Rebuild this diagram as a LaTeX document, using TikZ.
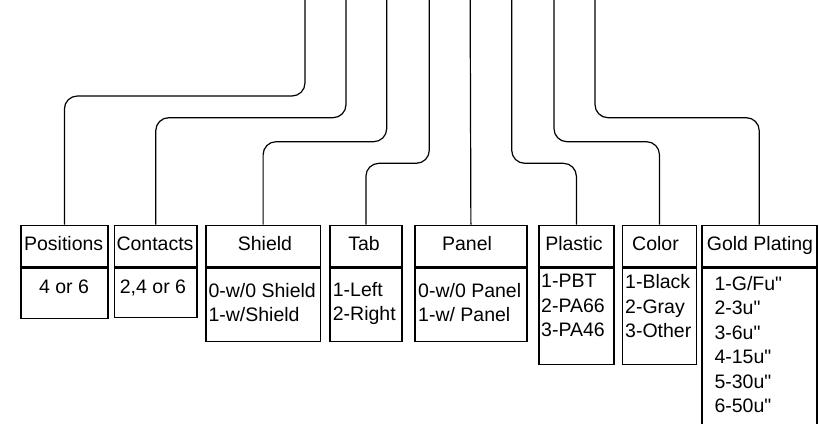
\documentclass[tikz,border=0pt]{standalone}
\usepackage{fontspec}
\setmainfont{Liberation Sans}[Ligatures=TeXOff]
\begin{document}
\begin{tikzpicture}[x=1pt,y=-1pt,
  font=\fontsize{19.5}{24.5}\selectfont,
  hdr/.style={draw, line width=1.5pt, inner sep=0pt, minimum height=41pt, anchor=north west},
  bodybox/.style={draw, line width=1.5pt, inner sep=0pt, anchor=north west},
  txt/.style={inner sep=0pt, anchor=base west},
  mtxt/.style={inner sep=0pt, anchor=north west, align=left},
  conn/.style={line width=1.2pt, rounded corners=13pt}]
\useasboundingbox (0,0) rectangle (819,423);
\clip (0,0) rectangle (819,423);
% headers
\node[hdr, minimum width=87.3pt] (h1) at (20,224.7) {};
\node[hdr, minimum width=82.6pt] (h2) at (113.7,224.7) {};
\node[hdr, minimum width=114.7pt] (h3) at (205,224.7) {};
\node[hdr, minimum width=71.7pt] (h4) at (329.3,224.7) {};
\node[hdr, minimum width=112.3pt] (h5) at (414,224.7) {};
\node[hdr, minimum width=74.7pt] (h6) at (538.3,224.7) {};
\node[hdr, minimum width=74pt] (h7) at (621.7,224.7) {};
\node[hdr, minimum width=115pt] (h8) at (701,224.7) {};
% bodies
\node[bodybox, minimum width=87.3pt, minimum height=50.3pt] (b1) at (h1.south west) {};
\node[bodybox, minimum width=82.6pt, minimum height=49.6pt] (b2) at (h2.south west) {};
\node[bodybox, minimum width=114.7pt, minimum height=73.3pt] (b3) at (h3.south west) {};
\node[bodybox, minimum width=71.7pt, minimum height=73.3pt] (b4) at (h4.south west) {};
\node[bodybox, minimum width=112.3pt, minimum height=73.3pt] (b5) at (h5.south west) {};
\node[bodybox, minimum width=74.7pt, minimum height=96.6pt] (b6) at (h6.south west) {};
\node[bodybox, minimum width=74pt, minimum height=96.6pt] (b7) at (h7.south west) {};
\node[bodybox, minimum width=115pt, minimum height=180pt] (b8) at (h8.south west) {};
% header texts
\node[inner sep=0pt, anchor=base] (t1) at (63.7,250.5) {Positions};
\node[inner sep=0pt, anchor=base] (t2) at (155,250.5) {Contacts};
\node[inner sep=0pt, anchor=base] (t3) at (265,250.5) {Shield};
\node[inner sep=0pt, anchor=base] (t4) at (364,250.5) {Tab};
\node[inner sep=0pt, anchor=base] (t5) at (467,250.5) {Panel};
\node[inner sep=0pt, anchor=base] (t6) at (574,250.5) {Plastic};
\node[inner sep=0pt, anchor=base] (t7) at (655.5,250.5) {Color};
\node[inner sep=0pt, anchor=base] (t8) at (760,250.5) {Gold Plating};
% body texts
\node[inner sep=0pt, anchor=base] (v1) at (64,293.3) {4 or 6};
\node[txt] (v2) at (119.7,293.3) {2,4 or 6};
\node[mtxt] (v3) at (208.3,283) {0-w/0 Shield\\1-w/Shield};
\node[mtxt] (v4) at (332.7,282) {1-Left\\2-Right};
\node[mtxt] (v5) at (418,283) {0-w/0 Panel\\1-w/ Panel};
\node[mtxt] (v6) at (541,274.3) {1-PBT\\2-PA66\\3-PA46};
\node[mtxt] (v7) at (625,274.3) {1-Black\\2-Gray\\3-Other};
\node[mtxt] (v8) at (714.3,276) {1-G/Fu"\\2-3u"\\3-6u"\\4-15u"\\5-30u"\\6-50u"};
% connector sources
\coordinate (s1) at (305,0);
\coordinate (s2) at (346,0);
\coordinate (s3) at (386.7,0);
\coordinate (s4) at (429.3,0);
\coordinate (s5) at (470.15,0);
\coordinate (s6) at (511.7,0);
\coordinate (s7) at (554,0);
\coordinate (s8) at (595,0);
\draw[conn] (s1) -- ++(0,96) -| (h1.north);
\draw[conn] (s2) -- ++(0,117.7) -| (h2.north);
\draw[conn] (s3) -- ++(0,141.7) -| (h3.north);
\draw[conn] (s4) -- ++(0,163.3) -| (h4.north);
\draw[conn] (s5) -- (h5.north);
\draw[conn] (s6) -- ++(0,163.3) -| (h6.north);
\draw[conn] (s7) -- ++(0,141.7) -| (h7.north);
\draw[conn] (s8) -- ++(0,117.7) -| (h8.north);
\end{tikzpicture}
\end{document}
